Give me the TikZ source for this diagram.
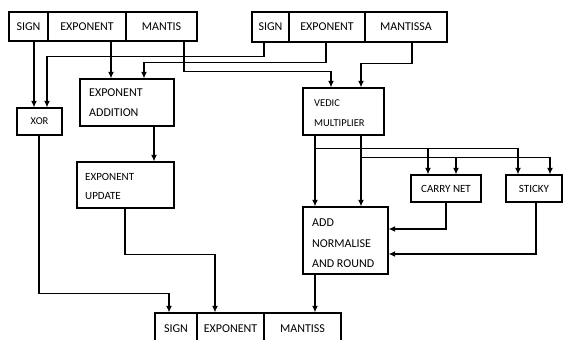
\documentclass[tikz,border=0pt]{standalone}
\usepackage{fontspec}
\setmainfont{Carlito}
\usetikzlibrary{arrows.meta}
\begin{document}
\begin{tikzpicture}[x=1pt,y=-1pt,
  cell/.style={draw, line width=1.3pt, inner sep=0pt, font=\fontsize{12}{12}\selectfont},
  box/.style={draw, line width=1.3pt, inner sep=0pt},
  lbl/.style={anchor=west, inner sep=0pt, align=left},
  arr/.style={line width=1.3pt, -{Latex[length=6.5pt,width=6pt]}},
  ln/.style={line width=1.3pt}]
\useasboundingbox[fill=white] (0,0) rectangle (563,340);
% top-left register
\node[cell, minimum width=39pt, minimum height=29pt] (tlS) at (28.5,26.5) {SIGN};
\node[cell, minimum width=78pt, minimum height=29pt] (tlE) at (87,26.5) {EXPONENT};
\node[cell, minimum width=71pt, minimum height=29pt] (tlM) at (161.5,26.5) {MANTIS};
% top-right register
\node[cell, minimum width=37pt, minimum height=30pt] (trS) at (270.5,27) {SIGN};
\node[cell, minimum width=76pt, minimum height=30pt] (trE) at (327,27) {EXPONENT};
\node[cell, minimum width=82pt, minimum height=30pt] (trM) at (406,27) {MANTISSA};
% output register
\node[cell, minimum width=42pt, minimum height=32pt] (oS) at (176,329) {SIGN};
\node[cell, minimum width=67pt, minimum height=32pt] (oE) at (230.5,329) {EXPONENT};
\node[cell, minimum width=77pt, minimum height=32pt] (oM) at (302.5,329) {MANTISS};
% boxes
\node[box, minimum width=45pt, minimum height=27pt, font=\fontsize{10.5}{10.5}\selectfont] (xor) at (39.5,121.5) {XOR};
\node[box, minimum width=94pt, minimum height=47pt] (ea) at (127,102.5) {};
\node[lbl, font=\fontsize{12}{20}\selectfont] (eaT) at (89,103) {EXPONENT\\ADDITION};
\node[box, minimum width=81pt, minimum height=47pt] (vm) at (343.5,111.5) {};
\node[lbl, font=\fontsize{10.5}{20}\selectfont] (vmT) at (314,113) {VEDIC\\MULTIPLIER};
\node[box, minimum width=97pt, minimum height=46pt] (eu) at (125.5,185) {};
\node[lbl, font=\fontsize{11}{19}\selectfont] (euT) at (85,186) {EXPONENT\\UPDATE};
\node[box, minimum width=70pt, minimum height=27pt, font=\fontsize{11}{11}\selectfont] (cn) at (446,188.5) {CARRY NET};
\node[box, minimum width=56pt, minimum height=27pt, font=\fontsize{11}{11}\selectfont] (st) at (534,188.5) {STICKY};
\node[box, minimum width=85pt, minimum height=67pt] (anr) at (345.5,240.5) {};
\node[lbl, font=\fontsize{12}{20.5}\selectfont] (anrT) at (312,243.5) {ADD\\NORMALISE\\AND ROUND};
% connectors
\draw[arr] ([xshift=5.5pt]tlS.south) -- ([xshift=-5.5pt]xor.north);
\draw[arr] ([xshift=-6.5pt]trS.south) -- ++(0,14) -| ([xshift=7.5pt]xor.north);
\draw[arr] ([xshift=24pt]tlE.south) -- ([xshift=-16pt]ea.north);
\draw[arr] ([xshift=-1pt]trE.south) -- ++(0,20) -| ([xshift=17pt]ea.north);
\draw[arr] ([xshift=22.5pt]tlM.south) -- ++(0,30) -| ([xshift=-12.5pt]vm.north);
\draw[arr] ([xshift=6pt]trM.south) -- ++(0,21) -| ([xshift=17.5pt]vm.north);
\draw[arr] ([xshift=27pt]ea.south) -- ([xshift=27pt]ea.south |- eu.north);
\draw[arr] ([xshift=-0.5pt]eu.south) -- ++(0,46) -| ([xshift=-15.5pt]oE.north);
\draw[arr] ([xshift=-0.5pt]xor.south) -- ++(0,158) -| ([xshift=-7pt]oS.north);
\draw[arr] ([xshift=-28.5pt]vm.south) -- ([xshift=-28.5pt]vm.south |- anr.north);
\draw[arr] ([xshift=17.5pt]vm.south) -- ([xshift=17.5pt]vm.south |- anr.north);
\coordinate (b1) at ([xshift=-28.5pt,yshift=-13pt]vm.south);
\coordinate (b2) at ([xshift=17.5pt,yshift=-22pt]vm.south);
\draw[arr] (b1) -| ([xshift=-18pt]cn.north);
\draw[arr] (b1) -| ([xshift=-16pt]st.north);
\draw[arr] (b2) -| ([xshift=10pt]cn.north);
\draw[arr] (b2) -| ([xshift=16pt]st.north);
\draw[arr] (cn.south) |- ([yshift=11.5pt]anr.east);
\draw[arr] ([xshift=2pt]st.south) |- ([yshift=-13.5pt]anr.east);
\draw[arr] ([xshift=-30.5pt]anr.south) -- ([xshift=-30.5pt]anr.south |- oM.north);
\end{tikzpicture}
\end{document}
